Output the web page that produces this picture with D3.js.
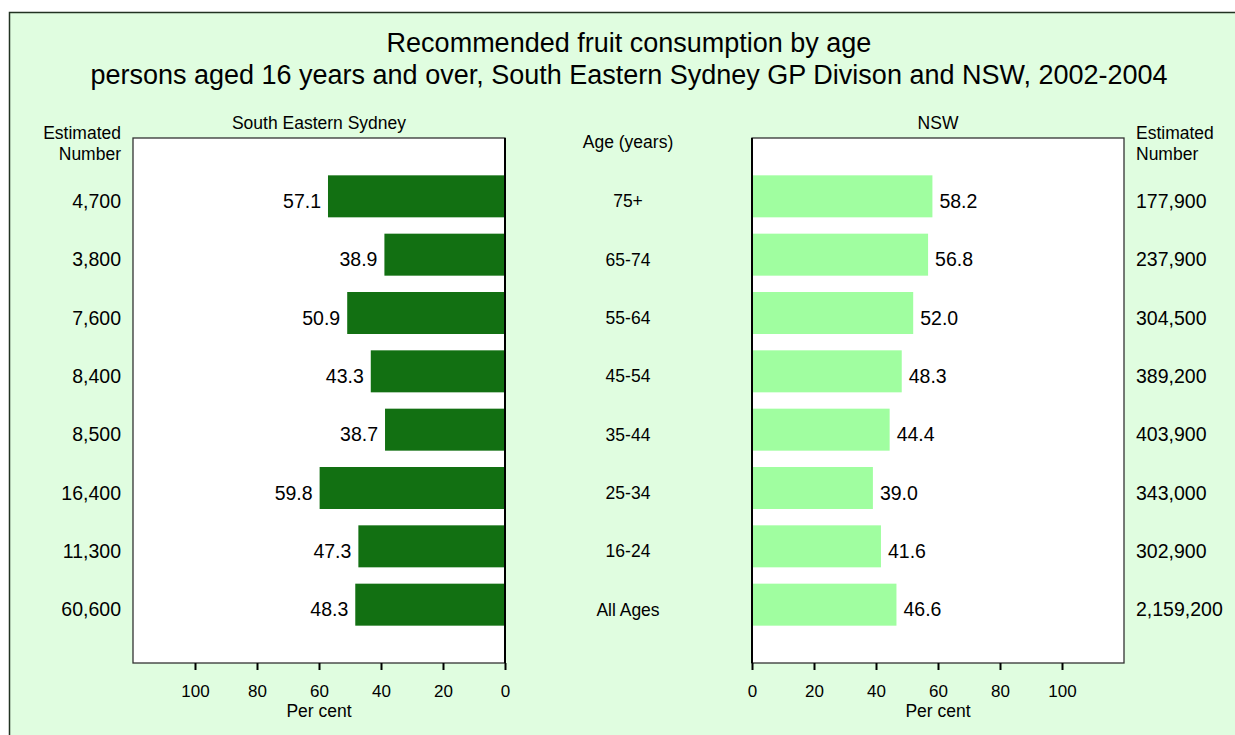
<!DOCTYPE html>
<html>
<head>
<meta charset="utf-8">
<script src="https://cdn.jsdelivr.net/npm/d3@7"></script>
<style>
  body { margin: 0; background: #fff; }
  text { font-family: "Liberation Sans", Arial, sans-serif; fill: #000; }
</style>
</head>
<body>
<script>
(function() {

	// data
	var ages = ["75+", "65-74", "55-64", "45-54", "35-44", "25-34", "16-24", "All Ages"];
	var sesValues = [57.1, 38.9, 50.9, 43.3, 38.7, 59.8, 47.3, 48.3];
	var nswValues = [58.2, 56.8, 52.0, 48.3, 44.4, 39.0, 41.6, 46.6];
	var sesNumbers = ["4,700", "3,800", "7,600", "8,400", "8,500", "16,400", "11,300", "60,600"];
	var nswNumbers = ["177,900", "237,900", "304,500", "389,200", "403,900", "343,000", "302,900", "2,159,200"];
	var xTicks = [0, 20, 40, 60, 80, 100];

	var W = 1235, H = 735;
	var fsVal = 19.5;   // bar values and estimated numbers
	var fsLab = 17.5;   // headers and age labels
	var fsTick = 17;
	var textShift = 5;  // labels sit slightly below the bar centre

	var svg = d3.select("body")
		.append("svg")
		.attr("width", W)
		.attr("height", H);

	// outer frame
	svg.append("rect")
		.attr("x", 9.5)
		.attr("y", 12.5)
		.attr("width", W)
		.attr("height", H)
		.attr("fill", "#e0fde0")
		.attr("stroke", "#223322")
		.attr("stroke-width", 1.5);

	// title
	var title = svg.append("text")
		.attr("text-anchor", "middle")
		.style("font-size", "27px");
	title.append("tspan").attr("x", 629).attr("y", 52).text("Recommended fruit consumption by age");
	title.append("tspan").attr("x", 629).attr("y", 84).text("persons aged 16 years and over, South Eastern Sydney GP Divison and NSW, 2002-2004");

	var top = 138, bottom = 663;

	var y = d3.scalePoint()
		.domain(ages)
		.range([top, bottom])
		.padding(1);
	var barH = 42;

	// left panel (reversed)
	var xl = d3.scaleLinear().domain([0, 120]).range([505, 133]);
	// right panel
	var xr = d3.scaleLinear().domain([0, 120]).range([752, 1124]);

	function panel(x, values, color, side, name) {
		var g = svg.append("g");
		var r = x.range();
		var x0 = Math.min(r[0], r[1]), x1 = Math.max(r[0], r[1]);

		g.append("rect")
			.attr("x", x0)
			.attr("y", top)
			.attr("width", x1 - x0)
			.attr("height", bottom - top)
			.attr("fill", "#fff");

		g.selectAll("rect.bar")
			.data(values)
			.enter().append("rect")
			.attr("class", "bar")
			.attr("x", function(d) { return Math.min(x(0), x(d)); })
			.attr("y", function(d, i) { return y(ages[i]) - barH / 2; })
			.attr("width", function(d) { return Math.abs(x(d) - x(0)); })
			.attr("height", barH)
			.attr("fill", color);

		g.selectAll("text.val")
			.data(values)
			.enter().append("text")
			.attr("class", "val")
			.attr("x", function(d) { return x(d) + side * 7; })
			.attr("y", function(d, i) { return y(ages[i]) + textShift; })
			.attr("dy", "0.35em")
			.attr("text-anchor", side < 0 ? "end" : "start")
			.style("font-size", fsVal + "px")
			.text(function(d) { return d.toFixed(1); });

		// frame round the plot, heavier line at zero
		g.append("rect")
			.attr("x", x0)
			.attr("y", top)
			.attr("width", x1 - x0)
			.attr("height", bottom - top)
			.attr("fill", "none")
			.attr("stroke", "#333")
			.attr("stroke-width", 1.3);
		g.append("line")
			.attr("x1", x(0)).attr("x2", x(0))
			.attr("y1", top).attr("y2", bottom)
			.attr("stroke", "#000")
			.attr("stroke-width", 2);

		var axis = d3.axisBottom(x)
			.tickValues(xTicks)
			.tickSize(7)
			.tickPadding(15)
			.tickSizeOuter(0);
		var ag = g.append("g")
			.attr("transform", "translate(0," + bottom + ")")
			.call(axis);
		ag.select(".domain").remove();
		ag.selectAll(".tick line").attr("stroke", "#000").attr("stroke-width", 2);
		ag.selectAll(".tick text")
			.style("font-size", fsTick + "px")
			.style("font-family", "'Liberation Sans', Arial, sans-serif")
			.attr("fill", "#000");

		g.append("text")
			.attr("x", x(60))
			.attr("y", 717)
			.attr("text-anchor", "middle")
			.style("font-size", fsLab + "px")
			.text("Per cent");

		g.append("text")
			.attr("x", (x0 + x1) / 2)
			.attr("y", 128.5)
			.attr("text-anchor", "middle")
			.style("font-size", fsLab + "px")
			.text(name);
	}

	panel(xl, sesValues, "#127012", -1, "South Eastern Sydney");
	panel(xr, nswValues, "#a0fea0", 1, "NSW");

	// centre age labels
	svg.append("text")
		.attr("x", 628)
		.attr("y", 148)
		.attr("text-anchor", "middle")
		.style("font-size", fsLab + "px")
		.text("Age (years)");
	svg.selectAll("text.age")
		.data(ages)
		.enter().append("text")
		.attr("class", "age")
		.attr("x", 628)
		.attr("y", function(d) { return y(d) + textShift; })
		.attr("dy", "0.35em")
		.attr("text-anchor", "middle")
		.style("font-size", fsLab + "px")
		.text(function(d) { return d; });

	// estimated number columns
	function numbers(list, xPos, anchor) {
		var h = svg.append("text")
			.attr("text-anchor", anchor)
			.style("font-size", fsLab + "px");
		h.append("tspan").attr("x", xPos).attr("y", 138.5).text("Estimated");
		h.append("tspan").attr("x", xPos).attr("y", 159.5).text("Number");

		svg.selectAll(null)
			.data(list)
			.enter().append("text")
			.attr("x", xPos)
			.attr("y", function(d, i) { return y(ages[i]) + textShift; })
			.attr("dy", "0.35em")
			.attr("text-anchor", anchor)
			.style("font-size", fsVal + "px")
			.text(function(d) { return d; });
	}
	numbers(sesNumbers, 121, "end");
	numbers(nswNumbers, 1136, "start");

})();
</script>
</body>
</html>
